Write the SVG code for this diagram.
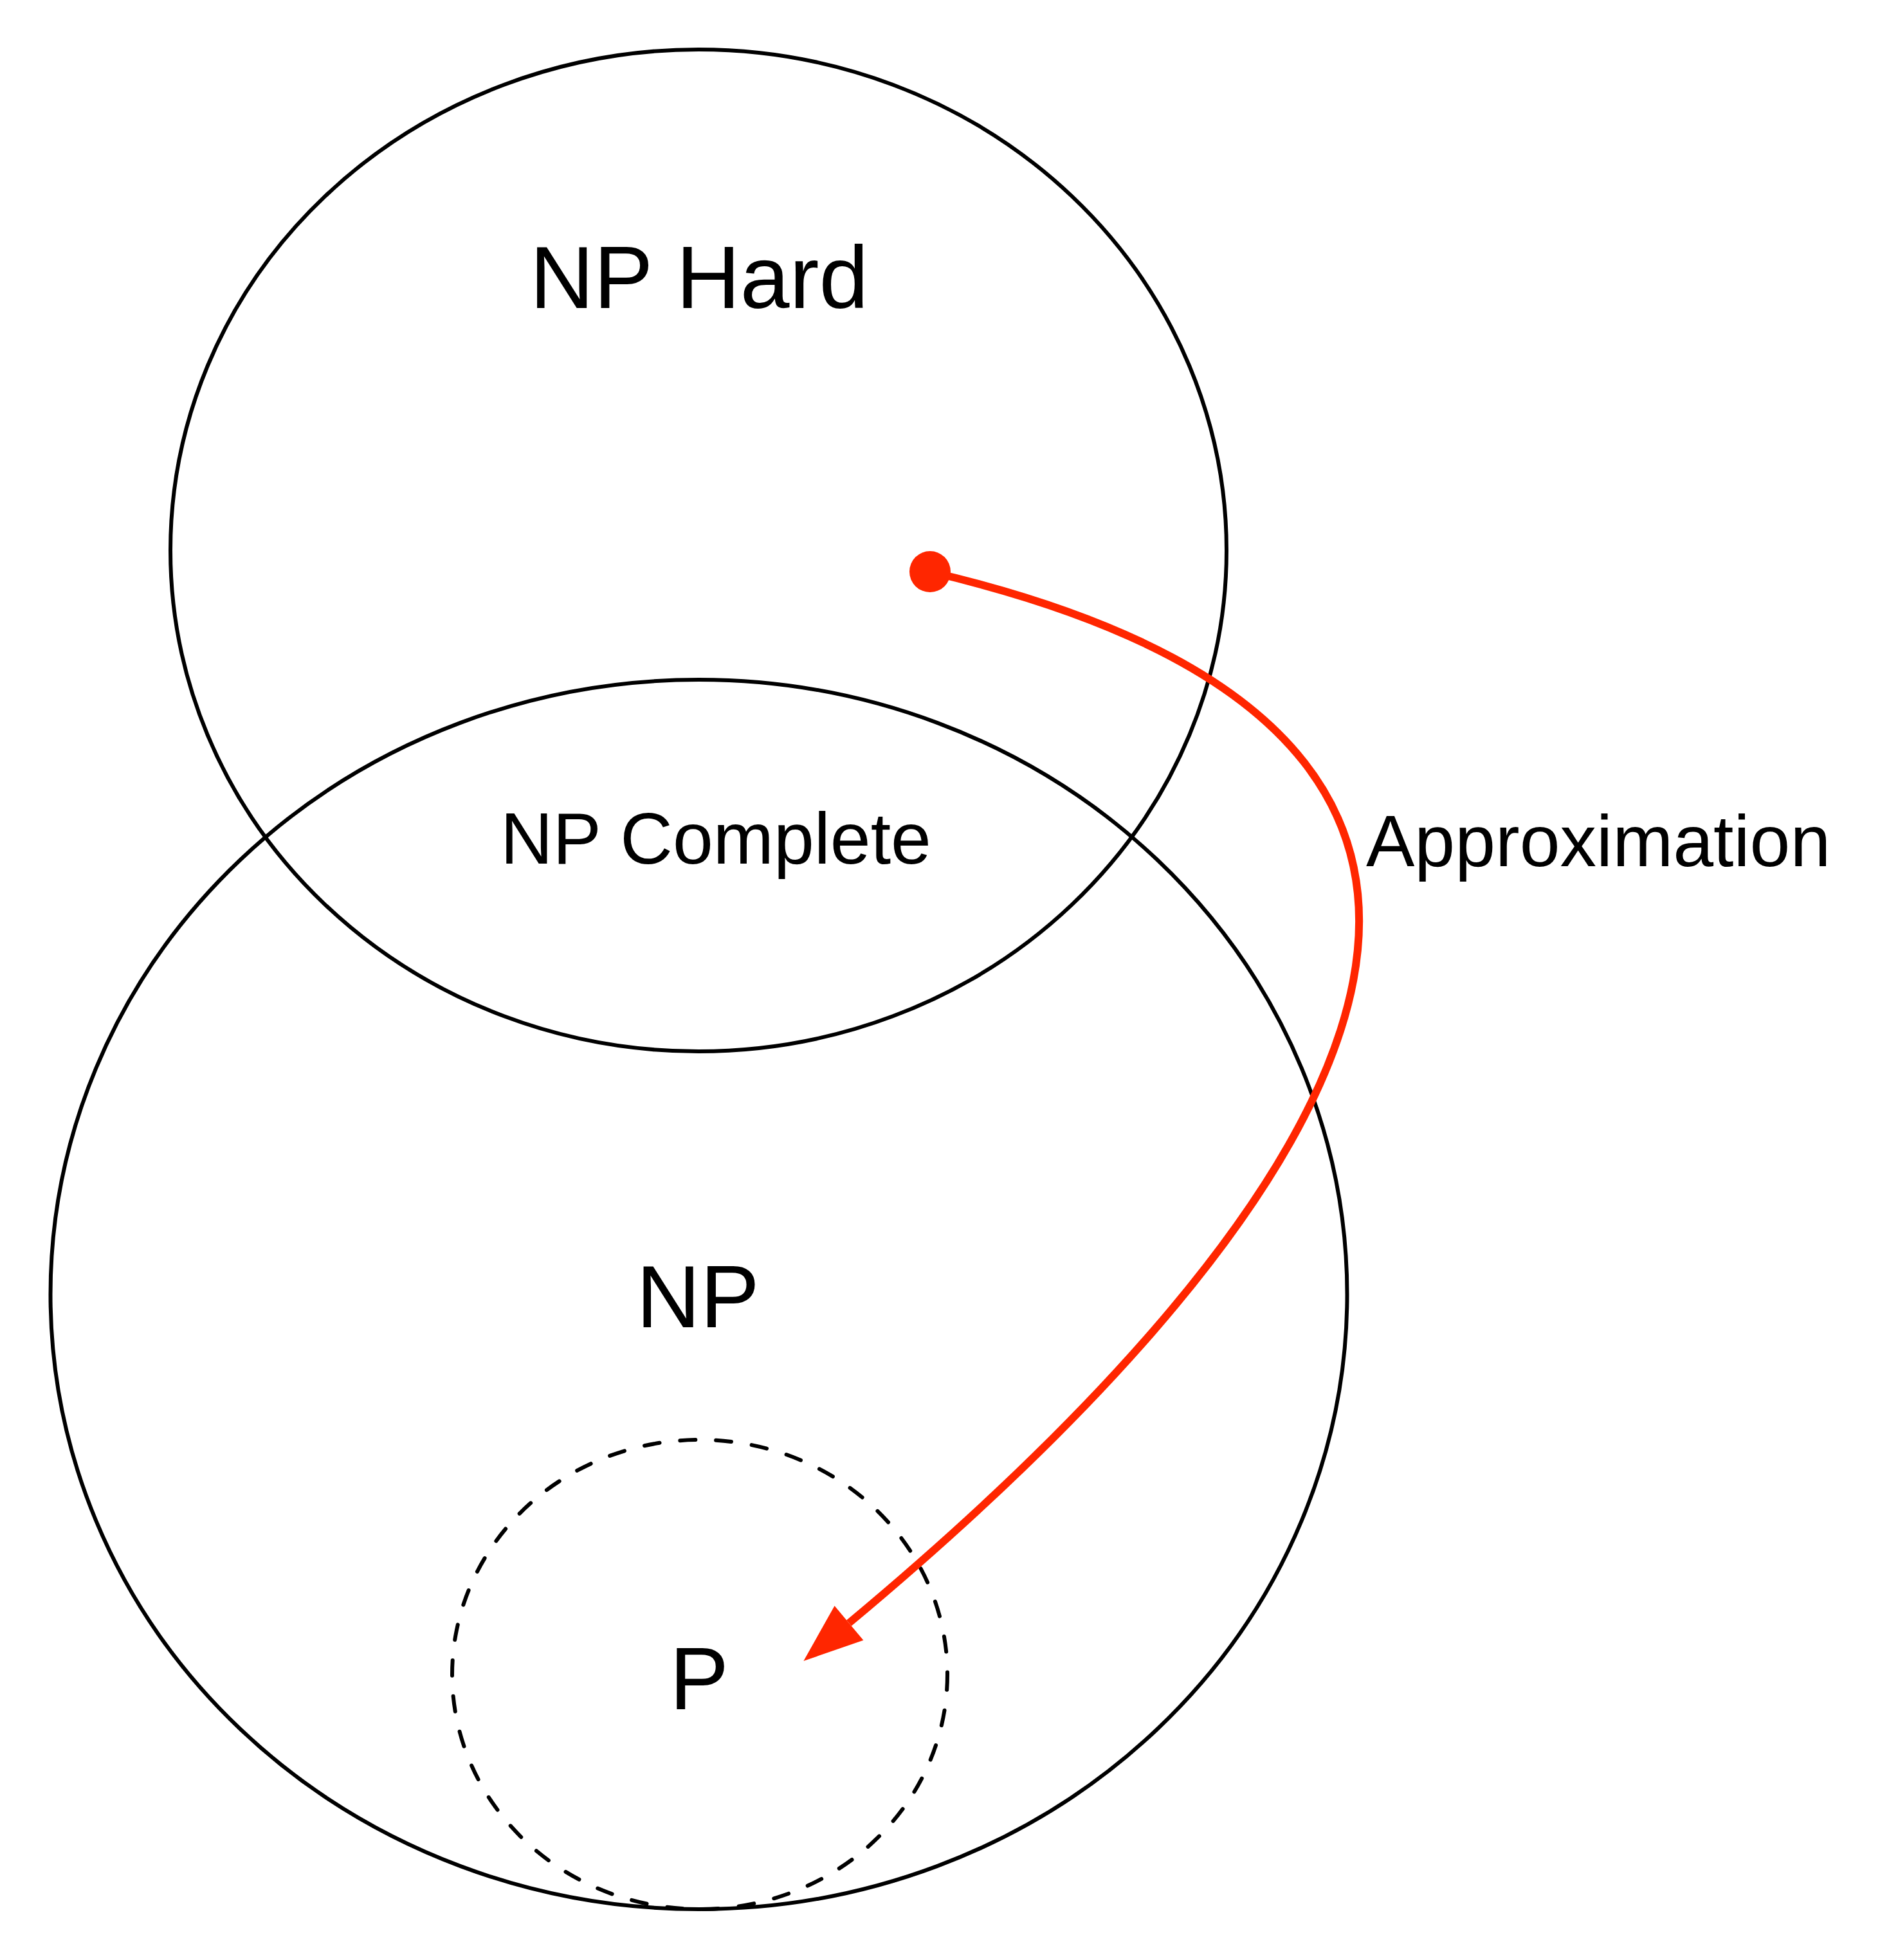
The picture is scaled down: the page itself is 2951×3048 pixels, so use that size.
<svg xmlns="http://www.w3.org/2000/svg" width="2951" height="3048" viewBox="0 0 2951 3048">
  <style>
    .set { fill: none; stroke: #000; stroke-width: 6; }
    .dashed { stroke-dasharray: 24 32; stroke-linecap: round; }
    .lbl { font-family: "Liberation Sans", Arial, Helvetica, sans-serif; fill: #000; }
    .big { font-size: 138px; text-anchor: middle; }
    .mid { font-size: 113px; }
    .conn { fill: none; stroke: #FF2600; stroke-width: 12; }
  </style>
  <defs>
    <marker id="arrow" markerUnits="userSpaceOnUse" markerWidth="100" markerHeight="80" viewBox="0 -40 100 80" refX="0" refY="0" orient="auto" overflow="visible">
      <polygon points="0,-35 92,0 0,35" fill="#FF2600"/>
    </marker>
  </defs>
  <rect width="2951" height="3048" fill="#fff"/>

  <g id="node-np-hard">
    <ellipse class="set" cx="1086" cy="856" rx="821" ry="779"/>
    <text class="lbl big" x="1087" y="479">NP Hard</text>
  </g>

  <g id="node-np">
    <ellipse class="set" cx="1086.5" cy="2013" rx="1008" ry="956"/>
    <text class="lbl big" x="1085" y="2064">NP</text>
  </g>

  <g id="node-np-complete">
    <text class="lbl mid" x="1113" y="1343" text-anchor="middle">NP Complete</text>
  </g>

  <g id="node-p">
    <ellipse class="set dashed" cx="1088" cy="2604" rx="385" ry="365"/>
    <text class="lbl big" x="1087" y="2658">P</text>
  </g>

  <g id="connectors">
    <path class="conn" d="M1446,889 C2646,1170 1990,1965 1320,2524" marker-end="url(#arrow)"/>
    <circle cx="1446" cy="889" r="32" fill="#FF2600"/>
    <text class="lbl mid" x="2124" y="1347">Approximation</text>
  </g>
</svg>
